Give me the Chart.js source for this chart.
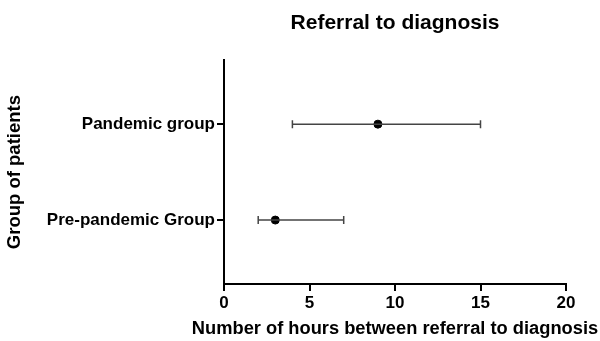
<!DOCTYPE html>
<html>
<head>
<meta charset="utf-8">
<script src="https://cdn.jsdelivr.net/npm/chart.js@4/dist/chart.umd.min.js"></script>
<style>
    body { margin: 0; background: #fff; }
    #wrap { width: 600px; height: 341px; }
</style>
</head>
<body>
<div id="wrap"><canvas id="chart"></canvas></div>
<script>
const groups = ['Pre-pandemic Group', 'Pandemic group'];
const means = [3, 9];
const lows = [2, 4];
const highs = [7, 15];
const xTicks = [0, 5, 10, 15, 20];
const xTitle = 'Number of hours between referral to diagnosis';

const font = "'Liberation Sans', Arial, sans-serif";

const datasets = [];
groups.forEach((g, i) => {
    datasets.push({
        type: 'line',
        label: g + ' range',
        data: [{ x: lows[i], y: i + 1 }, { x: highs[i], y: i + 1 }],
        borderColor: '#444',
        borderWidth: 1.5,
        pointStyle: 'line',
        pointRotation: 90,
        pointRadius: 4,
        pointBorderWidth: 1.5,
        pointBorderColor: '#444',
        fill: false
    });
});
datasets.push({
    type: 'scatter',
    label: 'Mean',
    data: means.map((m, i) => ({ x: m, y: i + 1 })),
    backgroundColor: '#000',
    borderColor: '#000',
    pointRadius: 4
});

// the built-in scale title gets squeezed to the axis width, so draw it here
const xTitlePlugin = {
    id: 'xTitle',
    afterDraw(chart) {
        const x = chart.scales.x;
        const ctx = chart.ctx;
        ctx.save();
        ctx.fillStyle = '#000';
        ctx.font = 'bold 18.3px ' + font;
        ctx.textAlign = 'center';
        ctx.textBaseline = 'middle';
        ctx.fillText(xTitle, (x.left + x.right) / 2, x.bottom - 12);
        ctx.restore();
    }
};

new Chart(document.getElementById('chart'), {
    data: { datasets: datasets },
    plugins: [xTitlePlugin],
    options: {
        responsive: true,
        maintainAspectRatio: false,
        animation: false,
        layout: { padding: { top: 0, right: 34, bottom: 0, left: 0 } },
        plugins: {
            legend: { display: false },
            tooltip: { enabled: false },
            title: {
                display: true,
                text: 'Referral to diagnosis',
                fullSize: false,
                color: '#000',
                font: { family: font, size: 21, weight: 'bold' },
                padding: { top: 11, bottom: 24 }
            }
        },
        scales: {
            x: {
                type: 'linear',
                min: 0,
                max: 20,
                afterBuildTicks: s => { s.ticks = xTicks.map(v => ({ value: v })); },
                afterFit: s => { s.height = 57; },
                border: { display: true, color: '#000', width: 2 },
                grid: { drawOnChartArea: false, drawTicks: true, tickLength: 7, color: '#000', lineWidth: 2 },
                ticks: { color: '#000', padding: 2, font: { family: font, size: 17, weight: 'bold' } }
            },
            y: {
                type: 'linear',
                min: 1 / 3,
                max: 8 / 3,
                afterBuildTicks: s => { s.ticks = groups.map((g, i) => ({ value: i + 1 })); },
                afterFit: s => { s.width = 224; },
                border: { display: true, color: '#000', width: 2 },
                grid: { drawOnChartArea: false, drawTicks: true, tickLength: 7, color: '#000', lineWidth: 2 },
                ticks: {
                    color: '#000',
                    padding: 2,
                    font: { family: font, size: 17, weight: 'bold' },
                    callback: v => groups[Math.round(v) - 1]
                },
                title: {
                    display: true,
                    text: 'Group of patients',
                    color: '#000',
                    font: { family: font, size: 18.5, weight: 'bold' },
                    padding: { top: 4, bottom: 0 }
                }
            }
        }
    }
});
</script>
</body>
</html>
